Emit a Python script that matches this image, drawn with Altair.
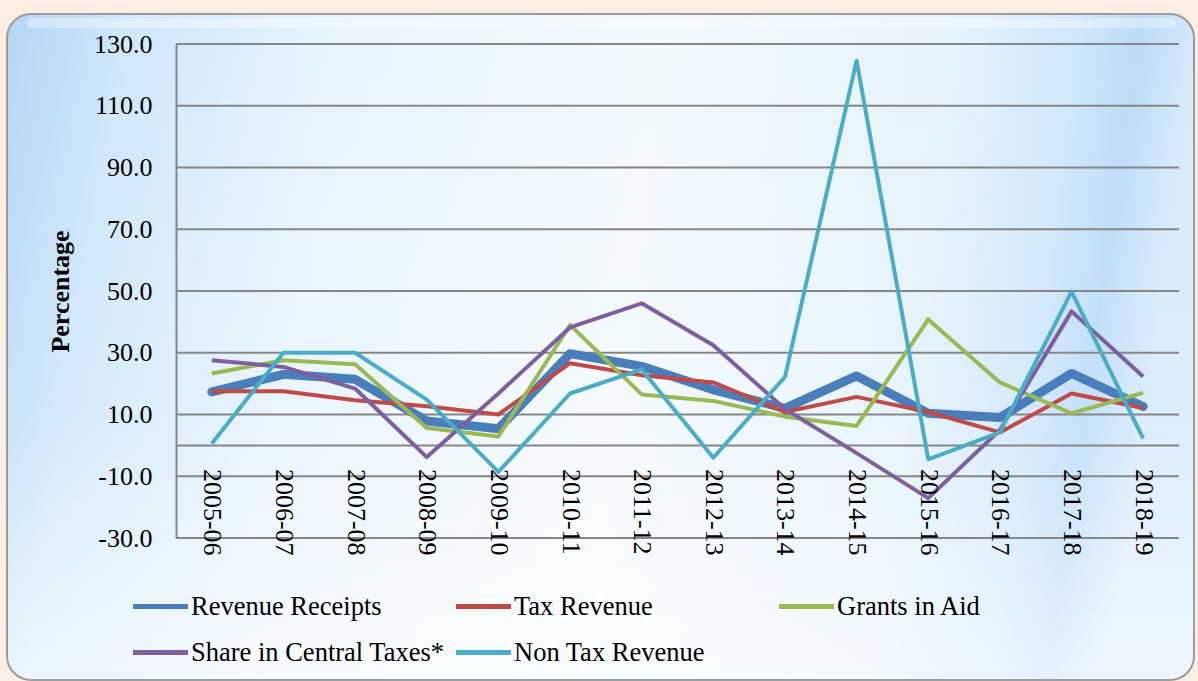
import altair as alt
import pandas as pd

years = ["2005-06", "2006-07", "2007-08", "2008-09", "2009-10", "2010-11", "2011-12",
         "2012-13", "2013-14", "2014-15", "2015-16", "2016-17", "2017-18", "2018-19"]
series_names = ["Revenue Receipts", "Tax Revenue", "Grants in Aid",
                "Share in Central Taxes*", "Non Tax Revenue"]
revenue_receipts = [17.3, 23.0, 21.4, 7.9, 5.4, 29.7, 25.6, 18.0, 12.0, 22.5, 10.4, 9.0, 23.3, 12.6]
tax_revenue = [17.5, 17.5, 14.6, 12.7, 10.0, 26.6, 22.7, 20.4, 10.8, 15.7, 10.8, 4.2, 16.8, 12.1]
grants_in_aid = [23.3, 27.6, 26.3, 5.6, 2.9, 39.0, 16.5, 14.4, 9.3, 6.3, 40.8, 20.4, 10.4, 17.0]
share_central = [27.6, 25.4, 18.4, -3.8, 16.8, 38.2, 46.0, 32.4, 11.8, -2.5, -17.1, 5.0, 43.4, 22.3]
non_tax = [0.6, 30.0, 30.0, 14.8, -8.6, 16.8, 24.6, -4.0, 22.2, 124.6, -4.5, 4.2, 49.8, 2.2]
colors = ["#4A7EBB", "#BE4B48", "#98B954", "#7D5FA0", "#4BACC6"]
tick_values = [-30, -10, 10, 30, 50, 70, 90, 110, 130]
grid_values = tick_values + [0]

all_series = [revenue_receipts, tax_revenue, grants_in_aid, share_central, non_tax]
rows = []
for name, vals in zip(series_names, all_series):
    for y, v in zip(years, vals):
        rows.append({"year": y, "series": name, "value": v})
df = pd.DataFrame(rows)
df_main = df[df.series == "Revenue Receipts"]
df_rest = df[df.series != "Revenue Receipts"]
grid_df = pd.DataFrame({"value": grid_values})

W, H = 1003, 494
FONT = "Liberation Serif"

y_scale = alt.Scale(domain=[-30, 130], nice=False, zero=False)
y_axis = alt.Axis(values=tick_values, title="Percentage",
                  labelExpr="(datum.value < 0 ? '-' : '') + format(abs(datum.value), '.1f')",
                  titleFont=FONT, titleFontSize=26, titleFontWeight="bold", titleColor="black",
                  titleAngle=270, titleX=-116, titleY=H / 2, titleAlign="center",
                  titleBaseline="middle",
                  labelFont=FONT, labelFontSize=26, labelColor="black", labelPadding=24,
                  ticks=False, grid=False, domainColor="#868686", domainWidth=2, zindex=1)
x_axis = alt.Axis(title=None, labelAngle=90, offset=-92.6, domain=False, ticks=False,
                  grid=False, labelPadding=23, labelFont=FONT, labelFontSize=26,
                  labelColor="black", zindex=1)
x_enc = alt.X("year:N", sort=years, scale=alt.Scale(type="point", padding=0.5), axis=x_axis)
y_enc = alt.Y("value:Q", scale=y_scale, axis=y_axis)
color_enc = alt.Color("series:N",
                      scale=alt.Scale(domain=series_names, range=colors),
                      legend=alt.Legend(title=None, orient="none", legendX=-32, legendY=546,
                                        direction="horizontal", columns=3, gridAlign="all",
                                        columnPadding=1, rowPadding=16,
                                        symbolType="M-2,0H2", symbolSize=756,
                                        symbolStrokeWidth=5, labelOffset=14,
                                        labelFont=FONT, labelFontSize=26.5, labelColor="black",
                                        labelLimit=0, padding=0))

panel = alt.Chart(pd.DataFrame({"a": [0]})).mark_rect(
    cornerRadius=24, stroke="#9C9C9C", strokeWidth=2,
    fill=alt.Gradient(gradient="linear", x1=0, y1=0, x2=1, y2=0.08,
                      stops=[alt.GradientStop(color="#B3D5F4", offset=0),
                             alt.GradientStop(color="#CFE7FA", offset=0.1),
                             alt.GradientStop(color="#E7F4FD", offset=0.28),
                             alt.GradientStop(color="#F3FAFE", offset=0.55),
                             alt.GradientStop(color="#E4F2FC", offset=0.8),
                             alt.GradientStop(color="#CFE7FA", offset=0.9),
                             alt.GradientStop(color="#BCDBF7", offset=0.95),
                             alt.GradientStop(color="#D6EAFB", offset=1)])
).encode(x=alt.value(-169), x2=alt.value(1018), y=alt.value(-30), y2=alt.value(636))

lower_fade = alt.Chart(pd.DataFrame({"a": [0]})).mark_rect(
    cornerRadius=24,
    fill=alt.Gradient(gradient="linear", x1=0, y1=0, x2=0, y2=1,
                      stops=[alt.GradientStop(color="rgba(255,255,255,0)", offset=0),
                             alt.GradientStop(color="rgba(255,255,255,0.15)", offset=0.6),
                             alt.GradientStop(color="rgba(255,255,255,0.6)", offset=1)])
).encode(x=alt.value(-168), x2=alt.value(1017), y=alt.value(-29), y2=alt.value(635))

highlight = alt.Chart(pd.DataFrame({"a": [0]})).mark_rect(
    cornerRadius=6, fill="white", opacity=0.35
).encode(x=alt.value(-150), x2=alt.value(1000), y=alt.value(-26), y2=alt.value(-16))

grid = alt.Chart(grid_df).mark_rule(color="#868686", strokeWidth=2).encode(y=y_enc)

main_line = alt.Chart(df_main).mark_line(strokeWidth=9, strokeCap="round", strokeJoin="round").encode(
    x=x_enc, y=y_enc, color=color_enc)
other_lines = alt.Chart(df_rest).mark_line(strokeWidth=4, strokeJoin="round").encode(
    x=x_enc, y=y_enc, color=color_enc)

chart = alt.layer(panel, lower_fade, highlight, grid, main_line, other_lines).properties(
    width=W, height=H,
    autosize=alt.AutoSizeParams(type="none"),
    padding={"left": 176, "top": 44, "right": 19, "bottom": 143},
).configure(background="#FCEEE2").configure_view(stroke=None)

chart.save("out.html", embed_options={"renderer": "svg", "actions": False})
